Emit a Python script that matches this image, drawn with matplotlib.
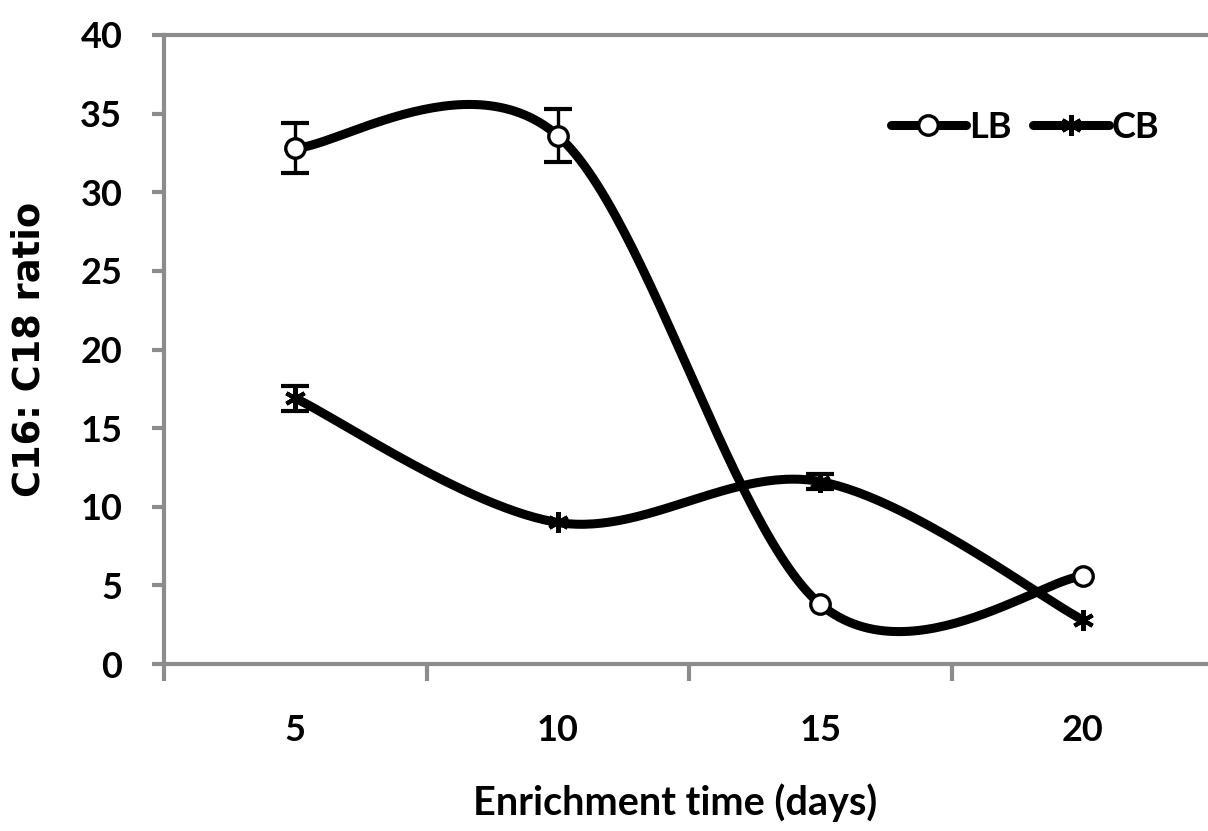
import numpy as np
import matplotlib.pyplot as plt
from matplotlib.lines import Line2D

# data
days = [5, 10, 15, 20]
lb_ratio = [32.8, 33.6, 3.8, 5.6]
lb_err = [1.6, 1.7, 0.0, 0.0]
cb_ratio = [16.9, 9.0, 11.6, 2.8]
cb_err = [0.8, 0.0, 0.5, 0.0]
y_ticks = [0, 5, 10, 15, 20, 25, 30, 35, 40]

AXIS_GRAY = "#8c8c8c"
TICK_FONT = "Lato"
STAR = (6, 2, 0)


def excel_smooth(x, y, n=60):
    """Catmull-Rom style bezier smoothing like Excel's smoothed line."""
    p = np.column_stack([x, y]).astype(float)
    ext = np.vstack([p[0], p, p[-1]])
    t = np.linspace(0, 1, n)[:, None]
    out = []
    for i in range(len(p) - 1):
        p0, p3 = ext[i + 1], ext[i + 2]
        c1 = p0 + (ext[i + 2] - ext[i]) / 6
        c2 = p3 - (ext[i + 3] - ext[i + 1]) / 6
        seg = ((1 - t) ** 3) * p0 + 3 * ((1 - t) ** 2) * t * c1 \
            + 3 * (1 - t) * t ** 2 * c2 + t ** 3 * p3
        out.append(seg if i == 0 else seg[1:])
    out = np.vstack(out)
    return out[:, 0], out[:, 1]


fig = plt.figure(figsize=(12.08, 8.31), dpi=100)
ax = fig.add_axes([164 / 1208, 167 / 831, 1050 / 1208, 629 / 831])

xpos = np.arange(1, len(days) + 1)

series = [
    (lb_ratio, lb_err, "o", 14, 2.4),
    (cb_ratio, cb_err, STAR, 15, 3.0),
]
for vals, errs, mk, ms, mew in series:
    vals = np.asarray(vals)
    errs = np.asarray(errs)
    sx, sy = excel_smooth(xpos, vals)
    ax.plot(sx, sy, color="black", lw=6.5, solid_capstyle="round", zorder=2)
    has_err = errs > 0
    ax.errorbar(xpos[has_err], vals[has_err], yerr=errs[has_err], fmt="none",
                ecolor="black", elinewidth=2.4, capsize=10, capthick=3,
                zorder=3)
    ax.plot(xpos, vals, linestyle="none", marker=mk, markersize=ms,
            markerfacecolor="white", markeredgecolor="black",
            markeredgewidth=mew, zorder=4)

ax.set_xlim(0.5, len(days) + 0.5)
ax.set_ylim(0, 40)
ax.set_yticks(y_ticks)
ax.set_xticks(xpos)
ax.set_xticklabels([str(d) for d in days])
ax.set_xticks(np.arange(0.5, len(days) + 0.5, 1.0), minor=True)

for side in ["left", "bottom", "top"]:
    ax.spines[side].set_color(AXIS_GRAY)
    ax.spines[side].set_linewidth(3)
ax.spines["right"].set_visible(False)

ax.tick_params(axis="y", which="major", direction="out", length=9,
               width=3, color=AXIS_GRAY, pad=21)
ax.tick_params(axis="x", which="major", length=0, pad=36)
ax.tick_params(axis="x", which="minor", direction="out", length=12,
               width=3, color=AXIS_GRAY)
for lbl in ax.get_xticklabels() + ax.get_yticklabels():
    lbl.set_fontfamily(TICK_FONT)
    lbl.set_fontweight("bold")
    lbl.set_fontsize(26)

ax.set_xlabel("Enrichment time (days)", fontfamily=TICK_FONT,
              fontweight="bold", fontsize=28.5)
ax.xaxis.set_label_coords((675 - 164) / 1050, -(815 - 664) / 629,
                          transform=ax.transAxes)
ax.xaxis.label.set_va("baseline")
ax.set_ylabel("C16: C18 ratio", fontfamily="DejaVu Sans",
              fontweight="bold", fontsize=26.5, va="center")
ax.yaxis.set_label_coords(-(164 - 29) / 1050, 0.5, transform=ax.transAxes)

handles = [
    Line2D([], [], color="black", lw=6.5, marker="o", markersize=14,
           markerfacecolor="white", markeredgewidth=2.4, solid_capstyle="round"),
    Line2D([], [], color="black", lw=6.5, marker=STAR, markersize=15,
           markeredgewidth=3.0, solid_capstyle="round"),
]
leg = ax.legend(handles, ["LB", "CB"], ncol=2, frameon=False,
                loc="center left", bbox_to_anchor=(858 / 1208, 1 - 127 / 831),
                bbox_transform=fig.transFigure, handlelength=2.1,
                handletextpad=0.08, columnspacing=0.6,
                prop={"family": TICK_FONT, "weight": "bold", "size": 26})

fig.savefig("out.png", dpi=100)
